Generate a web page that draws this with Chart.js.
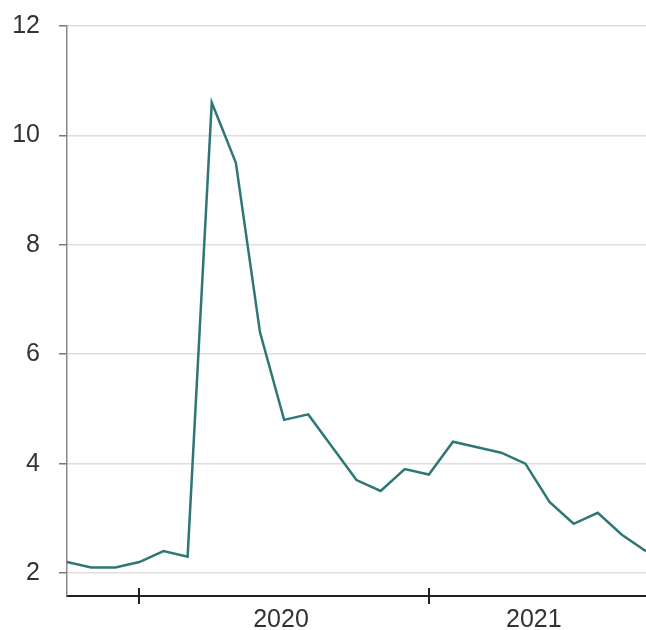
<!DOCTYPE html>
<html>
<head>
<meta charset="utf-8">
<script src="https://cdn.jsdelivr.net/npm/chart.js@4"></script>
<style>
  html, body { margin: 0; padding: 0; background: #fff; }
  #wrap { width: 646px; height: 630px; }
</style>
</head>
<body>
<div id="wrap"><canvas id="grafico"></canvas></div>
<script>
// monthly series, Oct 2019 .. Oct 2021
const months = ["2019-10","2019-11","2019-12","2020-01","2020-02","2020-03","2020-04","2020-05",
  "2020-06","2020-07","2020-08","2020-09","2020-10","2020-11","2020-12","2021-01","2021-02",
  "2021-03","2021-04","2021-05","2021-06","2021-07","2021-08","2021-09","2021-10"];
const values = [2.2, 2.1, 2.1, 2.2, 2.4, 2.3, 10.6, 9.5, 6.4, 4.8, 4.9, 4.3, 3.7, 3.5, 3.9,
  3.8, 4.4, 4.3, 4.2, 4.0, 3.3, 2.9, 3.1, 2.7, 2.4];

const yTicks = [2, 4, 6, 8, 10, 12];
const yearLabels = ["2020", "2021"];
const yearLabelPos = [8.87, 19.35];   // index position of the year label
const yearStarts = [3, 15];           // index of January (tick marks)

const fontFam = "'Liberation Sans', Arial, sans-serif";

const crossTicks = {
  id: "crossTicks",
  afterDraw(chart) {
    const x = chart.scales.x;
    const c = chart.ctx;
    c.save();
    c.strokeStyle = "#222";
    c.lineWidth = 2;
    yearStarts.forEach(function (v) {
      const px = Math.round(x.getPixelForValue(v));
      c.beginPath();
      c.moveTo(px, x.top - 8);
      c.lineTo(px, x.top + 8);
      c.stroke();
    });
    c.restore();
  }
};

document.addEventListener("DOMContentLoaded", function () {
  const ctx = document.getElementById("grafico");
  new Chart(ctx, {
    type: "line",
    data: {
      labels: months,
      datasets: [{
        data: values.map(function (v, i) { return { x: i, y: v }; }),
        borderColor: "#2f7775",
        borderWidth: 2.5,
        pointRadius: 0,
        tension: 0,
        fill: false
      }]
    },
    options: {
      responsive: true,
      maintainAspectRatio: false,
      animation: false,
      layout: { padding: { top: 26, right: 0, left: 0, bottom: 0 } },
      plugins: { legend: { display: false }, tooltip: { enabled: false } },
      scales: {
        x: {
          type: "linear",
          min: 0,
          max: months.length - 1,
          afterBuildTicks: function (s) {
            s.ticks = yearLabelPos.map(function (p) { return { value: p }; });
          },
          afterFit: function (s) { s.height = 34; },
          ticks: {
            autoSkip: false,
            maxRotation: 0,
            padding: 9,
            color: "#333",
            font: { family: fontFam, size: 25 },
            callback: function (v, i) { return yearLabels[i]; }
          },
          grid: { display: true, drawOnChartArea: false, drawTicks: false },
          border: { display: true, color: "#222", width: 2 }
        },
        y: {
          min: 1.58,
          max: 12,
          afterBuildTicks: function (s) {
            s.ticks = yTicks.map(function (v) { return { value: v }; });
          },
          afterFit: function (s) {
            s.width = 67;
            s.paddingTop = 0;
            s.paddingBottom = 0;
          },
          ticks: {
            padding: 19,
            color: "#333",
            font: { family: fontFam, size: 25 }
          },
          grid: { color: "#dddddd", lineWidth: 1.5, tickLength: 8, tickColor: "#777" },
          border: { display: true, color: "#888", width: 1.5 }
        }
      }
    },
    plugins: [crossTicks]
  });
});
</script>
</body>
</html>
